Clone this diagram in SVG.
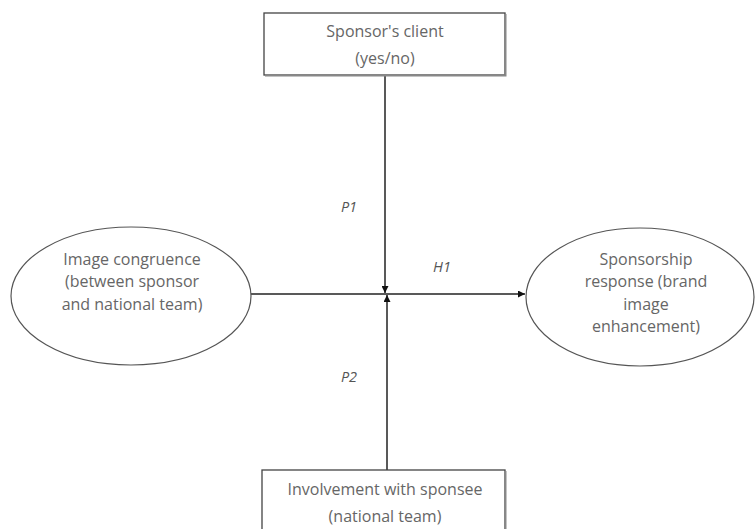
<svg xmlns="http://www.w3.org/2000/svg" width="756" height="529" viewBox="0 0 756 529">
<style>
.box{fill:#fff;stroke:#444;stroke-width:1.3}
.shadow{fill:none;stroke:#888;stroke-width:2}
.ell{fill:#fff;stroke:#555;stroke-width:1.2}
.t{font-family:"Open Sans","Liberation Sans",Arial,sans-serif;font-size:16px;fill:#666;text-anchor:middle}
.lbl{font-family:"Open Sans","Liberation Sans",Arial,sans-serif;font-size:14.5px;fill:#555;font-style:italic;text-anchor:middle}
.con{stroke:#222;stroke-width:1.5;fill:none}
</style>
<defs>
<marker id="ah" viewBox="0 0 10 10" refX="10" refY="5" markerWidth="7" markerHeight="7" markerUnits="userSpaceOnUse" orient="auto"><path d="M0,0 L10,5 L0,10 z" fill="#111"/></marker>
</defs>
<rect width="756" height="529" fill="#fff"/>
<g id="connectors">
<line class="con" x1="251" y1="294" x2="525" y2="294" marker-end="url(#ah)"/>
<line class="con" x1="385" y1="75" x2="385" y2="293" marker-end="url(#ah)"/>
<line class="con" x1="387" y1="470" x2="387" y2="295" marker-end="url(#ah)"/>
</g>
<g id="sponsor-client">
<rect class="box" x="264" y="13" width="241" height="62"/>
<polyline class="shadow" points="505.5,14 505.5,75.5 265,75.5"/>
<text class="t" x="385" y="37">Sponsor's client</text>
<text class="t" x="385" y="64">(yes/no)</text>
</g>
<g id="image-congruence">
<ellipse class="ell" cx="131" cy="296" rx="120" ry="69"/>
<text class="t" x="132" y="265">Image congruence</text>
<text class="t" x="132" y="287">(between sponsor</text>
<text class="t" x="132" y="310">and national team)</text>
</g>
<g id="sponsorship-response">
<ellipse class="ell" cx="640" cy="297" rx="114" ry="69"/>
<text class="t" x="646" y="265">Sponsorship</text>
<text class="t" x="646" y="287">response (brand</text>
<text class="t" x="646" y="310">image</text>
<text class="t" x="646" y="332">enhancement)</text>
</g>
<g id="involvement">
<rect class="box" x="262" y="470" width="243" height="70"/>
<line class="shadow" x1="505.5" y1="471" x2="505.5" y2="529"/>
<text class="t" x="385" y="495">Involvement with sponsee</text>
<text class="t" x="385" y="522">(national team)</text>
</g>
<g id="labels">
<text class="lbl" x="349" y="212">P1</text>
<text class="lbl" x="442" y="272">H1</text>
<text class="lbl" x="349" y="382">P2</text>
</g>
</svg>
